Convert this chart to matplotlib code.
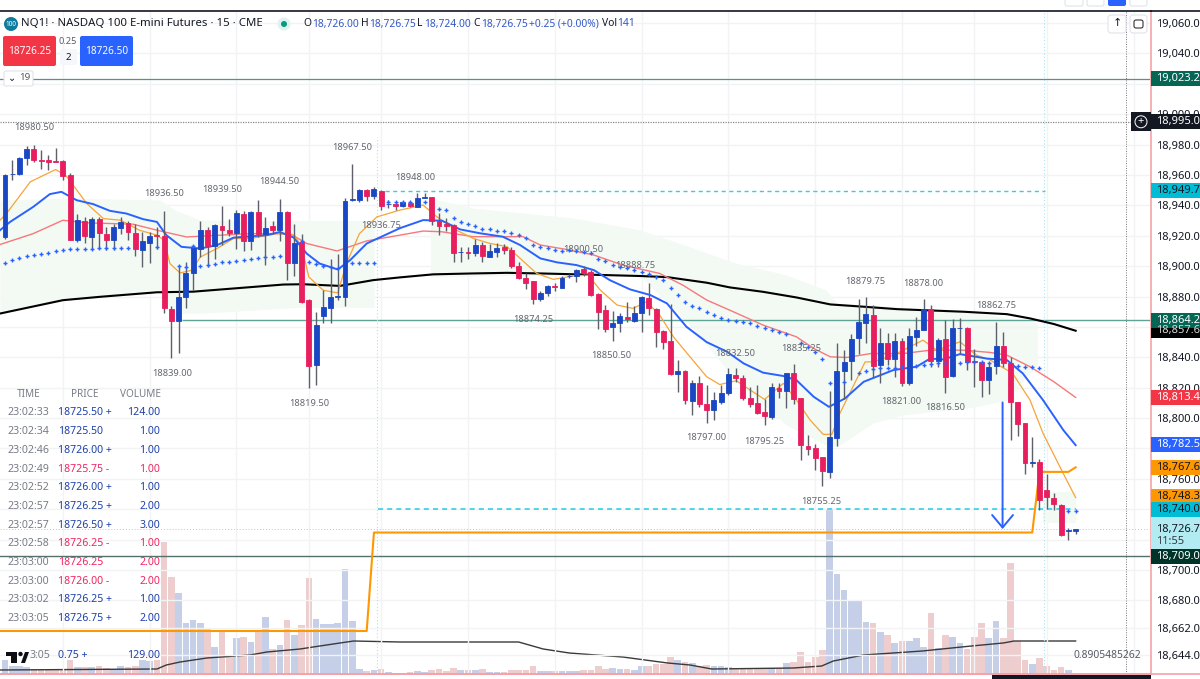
import matplotlib
matplotlib.use('Agg')
import matplotlib.pyplot as plt
from matplotlib.patches import Rectangle, Polygon, Circle, FancyBboxPatch

# bars
opens = [18919.2, 18960.4, 18960.9, 18971.4, 18977.1, 18970, 18969.6, 18969, 18969.4, 18959.8,
         18917.4, 18930, 18919.2, 18930.8, 18921.4, 18917.4, 18925.3, 18928.4, 18922, 18910.6,
         18915, 18920.3, 18920, 18872, 18864, 18879.7, 18895.4, 18911.5, 18924, 18913.3,
         18926.6, 18924, 18922, 18934.5, 18916.5, 18935.6, 18921, 18926.2, 18924, 18935.8,
         18902, 18915.6, 18877.7, 18835, 18867.2, 18872.2, 18880, 18880, 18943.5, 18943.8,
         18949.8, 18946, 18949.6, 18940.9, 18940.9, 18939.6, 18941.7, 18939.1, 18945, 18945.3,
         18929.9, 18927.7, 18927, 18909, 18909.2, 18908.4, 18913.9, 18906.2, 18909, 18912.3,
         18910.6, 18900.3, 18891.9, 18889.9, 18878.7, 18882, 18887, 18885.8, 18893.4, 18893.5,
         18897.8, 18895.9, 18881.8, 18870.9, 18860, 18862.7, 18866.5, 18864, 18869.3, 18879.2,
         18871.7, 18857.5, 18850.9, 18829, 18831.3, 18811.4, 18823.4, 18809.2, 18805.6, 18810.7,
         18816.3, 18828.1, 18826.2, 18813.2, 18809.7, 18804, 18800.9, 18819.8, 18817.8, 18829.4,
         18813, 18781.5, 18780, 18774.3, 18764.6, 18787.2, 18830.9, 18837.3, 18852.4, 18862.7,
         18867.8, 18834.9, 18849.1, 18839.2, 18850.9, 18823.2, 18853.5, 18857.9, 18871.5, 18837.7,
         18851.8, 18827.6, 18859.4, 18859, 18837.5, 18836.6, 18825, 18834.2, 18847.4, 18836.4,
         18810.7, 18796.7, 18770.7, 18770.8, 18752.5, 18747.7, 18743.1, 18726, 18726]
highs = [18960.5, 18969.6, 18971.6, 18978.9, 18980, 18976.2, 18973, 18977.8, 18969.6, 18961,
         18934.5, 18932.3, 18932.3, 18932.3, 18925.7, 18928, 18932.3, 18930, 18927.5, 18922.4,
         18922.4, 18925.7, 18936.3, 18874, 18900.5, 18902.7, 18913.7, 18929.7, 18925.7, 18928,
         18939.4, 18930.8, 18936.7, 18936.3, 18936.3, 18943.3, 18932.3, 18930, 18944.4, 18936.3,
         18927.5, 18921.4, 18878.5, 18870, 18884, 18905, 18908, 18945, 18967.5, 18951,
         18951, 18952, 18950, 18943.5, 18942.4, 18943, 18943, 18947.9, 18948, 18945.3,
         18935.2, 18932, 18928, 18912.3, 18912.3, 18917.6, 18916, 18914.5, 18915, 18914.5,
         18912.3, 18902.9, 18895.2, 18890.4, 18883.4, 18887.5, 18888.6, 18893.5, 18894.8, 18898,
         18900, 18897.4, 18882.5, 18874.4, 18870.4, 18869.3, 18876.6, 18873.7, 18880.3, 18888.6,
         18872.2, 18857.9, 18875, 18838.1, 18831.5, 18825, 18827.8, 18821.7, 18817.3, 18821.7,
         18832.7, 18832.7, 18828.3, 18820.7, 18821.8, 18812.3, 18822.9, 18823.3, 18829.5, 18835.6,
         18813, 18788.8, 18783, 18774.5, 18817.7, 18849.1, 18844.7, 18855.3, 18878.1, 18879.4,
         18874.4, 18859, 18855.7, 18856.1, 18852.4, 18859, 18866.7, 18878.1, 18874.4, 18852.4,
         18864.5, 18864.9, 18865.6, 18860, 18845.8, 18837, 18837, 18863, 18856.8, 18840.3,
         18810.7, 18796.9, 18787.7, 18773.4, 18763.5, 18750.4, 18743.3, 18727.5, 18726.75]
lows = [18918, 18956.5, 18960, 18966.3, 18968.3, 18964.2, 18963.5, 18968.5, 18956.5, 18917,
        18916, 18915.2, 18911.5, 18911.5, 18910.4, 18910.4, 18921.4, 18917, 18907, 18899.4,
        18902.2, 18911.5, 18869.1, 18839.3, 18842.6, 18872.6, 18884, 18906, 18899.5, 18905,
        18913.7, 18919.6, 18911.5, 18910, 18910.4, 18919.2, 18900.5, 18921.4, 18916.5, 18891,
        18893.3, 18875.8, 18819.5, 18821.7, 18862.8, 18862.8, 18878, 18874, 18943, 18942.5,
        18943, 18944, 18937, 18938, 18937, 18938.7, 18938.7, 18938.7, 18944.6, 18927,
        18920.2, 18923.3, 18902.9, 18902.9, 18905, 18906.6, 18902.9, 18905.8, 18906.2, 18908,
        18898.5, 18891.3, 18885, 18874.8, 18876.8, 18880.5, 18883.6, 18885.6, 18892, 18889.3,
        18893.5, 18880.5, 18858.8, 18856.8, 18850.9, 18856.8, 18863.4, 18863.4, 18856.6, 18867.8,
        18846.9, 18845.4, 18828.3, 18817.3, 18809.2, 18802, 18807, 18796.9, 18799, 18809.6,
        18815, 18823.5, 18811.9, 18807.5, 18802.7, 18795.4, 18799.6, 18813, 18806.4, 18809,
        18772.4, 18775.7, 18765.7, 18755.2, 18760.9, 18781.7, 18812.5, 18825, 18842.5, 18849.1,
        18826.7, 18822.8, 18834.9, 18827.2, 18821, 18821.7, 18847.6, 18857.9, 18833.3, 18833.8,
        18816.6, 18827.2, 18842.5, 18831.6, 18820.6, 18814, 18815.8, 18829, 18833.3, 18785.5,
        18788.1, 18763.1, 18768, 18739.4, 18740.5, 18739.8, 18722.7, 18719.6, 18724]
closes = [18959.8, 18960.9, 18971.4, 18977.1, 18969.6, 18969.5, 18968.8, 18968.7, 18959.3, 18917.4,
          18930.1, 18919.6, 18930.8, 18921.8, 18917, 18925.5, 18929, 18922.2, 18911, 18916.3,
          18919.6, 18919.7, 18872.6, 18864, 18879.7, 18895.4, 18912.1, 18923.5, 18913.3, 18927.3,
          18924, 18922, 18935, 18916.5, 18935.8, 18921, 18925.3, 18924, 18935.8, 18902,
          18915.2, 18876.4, 18834.3, 18861.3, 18872.9, 18879.5, 18880.4, 18943, 18944, 18950.4,
          18946, 18950.8, 18939.8, 18941, 18939.6, 18942, 18939.6, 18944.6, 18945.3, 18929.9,
          18926.4, 18926.6, 18908.8, 18909.2, 18908.8, 18913.7, 18907, 18909.7, 18912.1, 18910.6,
          18900.3, 18891.9, 18889, 18878.3, 18882, 18886.9, 18886.4, 18892.4, 18893.6, 18897.2,
          18895.2, 18881, 18869.5, 18858.8, 18862.9, 18867.1, 18865.1, 18869.3, 18879.9, 18872.2,
          18856.8, 18850.4, 18828.7, 18830.9, 18811.8, 18823, 18809.6, 18805.6, 18811.8, 18816.8,
          18829, 18826.2, 18813, 18809, 18803.1, 18801.1, 18820.2, 18817.8, 18829.4, 18812.6,
          18782.3, 18779.8, 18774, 18765, 18787.7, 18831.1, 18837, 18852.2, 18863.2, 18868.2,
          18834.4, 18849.1, 18838.8, 18850.7, 18823.2, 18854.2, 18858.3, 18871.5, 18837.5, 18851.3,
          18827.2, 18859.4, 18859.6, 18837, 18837.2, 18825, 18833.8, 18847.6, 18836.4, 18810.7,
          18796.4, 18770.5, 18771, 18746.4, 18748.2, 18743.3, 18723.1, 18726.2, 18726.75]
volumes = [14, 8, 8, 7, 5, 5, 5, 4, 5, 14, 7, 7, 7, 8, 6, 5, 8, 7, 8, 14, 13, 14,
           132, 97, 81, 51, 54, 51, 45, 27, 44, 19, 36, 37, 32, 42, 57, 25, 29, 54, 39, 49,
           96, 55, 50, 50, 51, 105, 53, 5, 3, 4, 5, 2, 1, 1, 2, 3, 2, 4, 5, 3, 6, 4, 4, 4,
           5, 2, 2, 2, 4, 4, 4, 8, 3, 3, 3, 3, 3, 3, 4, 4, 8, 5, 6, 5, 5, 4, 8, 8, 10, 10,
           17, 14, 12, 11, 8, 9, 8, 8, 7, 6, 6, 6, 6, 6, 6, 6, 11, 12, 22, 12, 17, 24,
           165, 100, 84, 74, 74, 52, 51, 42, 39, 31, 33, 33, 36, 27, 61, 26, 39, 37, 31, 25,
           37, 51, 36, 53, 36, 111, 33, 14, 10, 16, 8, 4, 7, 4, 1]

fast_x = [-0.7, 0.2, 3.5, 7, 8.5, 11.3, 13.6, 16, 18.6, 21, 22, 22.8, 24.2, 25.8, 27, 29.3, 31.6, 34, 37.6,
          40, 41, 42, 44, 46, 47.2, 49, 51.4, 54.6, 57.8, 59.7, 62.4, 64.7, 67, 69.4, 70.7, 73.5, 75.8,
          78.5, 80.6, 82.3, 84.6, 86.8, 88.7, 90.5, 92.4, 94.7, 97, 98.8, 101.1, 103, 105, 107.6, 109.4,
          111.3, 113.1, 114.3, 115.4, 118.9, 120, 122.8, 126.9, 128.8, 132, 134.3, 136.2, 139.3, 141.7,
          143.5, 146.3, 148]
fast_y = [18930.2, 18934.6, 18955.5, 18963.6, 18959.2, 18941.2, 18931.3, 18930.2, 18923.6, 18920.4, 18917,
          18901.7, 18895.5, 18897.3, 18906, 18911.6, 18918.2, 18918.2, 18921.4, 18920.4, 18912.7, 18892.9,
          18884.1, 18882.4, 18901.7, 18921.4, 18932.4, 18936.9, 18940.2, 18932.5, 18923.7, 18918.3, 18915,
          18912.8, 18907.3, 18895.2, 18891.3, 18893.5, 18894.1, 18884.2, 18874.4, 18872.2, 18876.6, 18867.8,
          18853.5, 18840.3, 18827.2, 18822.1, 18824.6, 18818.5, 18812.3, 18822.9, 18811.9, 18798.7, 18789.3,
          18789.3, 18803, 18837, 18837, 18841.4, 18851.3, 18844.7, 18850.2, 18841.4, 18838.2, 18829.4,
          18811.8, 18789.9, 18763.5, 18747.7]
mid_x = [-0.7, 0.7, 3.9, 6.2, 7.8, 9.9, 12.2, 14.5, 16.8, 19.1, 21, 22.3, 24.4, 27, 29.3, 31.6, 36.2, 38, 39.9,
         41.7, 43.5, 46, 47.7, 50, 54.6, 57.8, 60.4, 62.9, 65.7, 68.8, 71.2, 74, 76.3, 79, 81.4, 83.6, 86.4,
         89.2, 91.5, 94.2, 97, 99.8, 102.1, 104.8, 107.6, 109.4, 111.8, 113.9, 116.1, 118.7, 122.8, 126,
         127.9, 129.7, 132, 135.7, 138.5, 140.7, 143.5, 146.3, 148]
mid_y = [18923.6, 18929.1, 18939, 18947.4, 18948.9, 18943.4, 18940.8, 18936.4, 18934.6, 18930.9, 18929.1,
         18920.4, 18912.7, 18911.6, 18913.8, 18918.8, 18920.4, 18922.5, 18918.8, 18908.3, 18901.7, 18897.8,
         18903.9, 18914.9, 18925, 18930.3, 18929.9, 18924.2, 18921.6, 18919.4, 18913.9, 18905.1, 18902.5,
         18900.7, 18897.4, 18890.8, 18884.7, 18881, 18875.5, 18860.1, 18850, 18843.7, 18836, 18829.9,
         18827.7, 18825, 18814, 18807.4, 18812.9, 18823.9, 18831.6, 18833.8, 18839.2, 18838.6, 18842.1,
         18839.2, 18838.2, 18829.4, 18811.8, 18792.1, 18782.2]
slow_x = [-0.7, 3.9, 8, 11.3, 17.7, 21.4, 25.1, 33.9, 39.4, 41.7, 45.9, 50, 54.6, 57.8, 60.4, 64.7, 71.6, 74,
          77.6, 81.4, 85.4, 90.5, 93.7, 97, 100.2, 104.8, 109.4, 111.8, 114.1, 116.4, 119.7, 124.2, 127.9,
          132.5, 136.2, 138.5, 141.7, 145, 148]
slow_y = [18914.2, 18921.4, 18930.2, 18928.5, 18927.6, 18923.2, 18919.2, 18921.4, 18921.4, 18914.9, 18910,
          18916.6, 18920.4, 18923.1, 18922.6, 18919.4, 18919.4, 18913.9, 18911, 18907.3, 18900.7, 18895.2,
          18887.5, 18877.7, 18871, 18861.2, 18853.5, 18845.8, 18840.3, 18839.9, 18842.5, 18842.5, 18844.7,
          18844.7, 18843.2, 18841.4, 18833.8, 18823.9, 18813.6]
long_x = [-0.7, 8, 13.1, 21, 26, 38.5, 41.2, 46.3, 50.9, 54.6, 59.2, 64.7, 69.4, 74, 83.2, 87.8, 91.5, 97, 100.2,
          104.8, 109.4, 114.1, 118.7, 123.3, 132.5, 138.5, 141.7, 145, 148]
long_y = [18868.8, 18877.6, 18879.8, 18882.8, 18883.2, 18887.9, 18888.1, 18887, 18890.8, 18892.6, 18894.6,
          18895.2, 18895.6, 18895.2, 18894.1, 18893.5, 18892.8, 18889.1, 18886, 18883.1, 18879.4, 18874.8,
          18873.3, 18871.7, 18870, 18868.4, 18865.6, 18861.9, 18857.5]
step_x = [-0.7, 50, 51, 142, 143, 147, 148]
step_y = [18659.9, 18659.9, 18724.7, 18724.7, 18764.6, 18764.6, 18767.6]
vol_line_x = [-0.7, 21, 22.3, 24.2, 27.9, 33.9, 36.2, 40.8, 42.6, 46.3, 48.2, 54.6, 71, 74.4, 78, 85.4, 91.6, 94.7,
              97.7, 109, 112.9, 114.5, 118.7, 126.8, 133.6, 138, 139.5, 148]
vol_line_y = [4, 5, 9, 12, 16, 19, 22, 25, 27, 31, 33, 32, 32, 25, 21, 17, 11, 9, 5, 6, 8, 13, 19, 23, 28, 31, 33, 33]

# dots above and below price
sar_x = [0, 1, 2, 3, 4, 5, 6, 7, 8, 9, 10, 11, 12, 13, 14, 15, 16, 17, 21, 24, 25, 26, 27, 28, 29, 30, 31, 32, 33,
         34, 35, 36, 37, 38, 41, 42, 43, 44, 45, 46, 48, 49, 50, 51, 53, 54, 55, 56, 58, 60, 61, 62, 63, 64, 65,
         66, 67, 68, 69, 70, 71, 72, 73, 74, 75, 76, 77, 78, 79, 80, 81, 82, 83, 84, 85, 86, 87, 88, 89, 90, 91,
         92, 93, 94, 95, 96, 97, 98, 99, 100, 101, 102, 103, 104, 105, 106, 107, 108, 110, 111, 112, 113, 114,
         116, 118, 119, 120, 121, 122, 123, 124, 126, 127, 128, 129, 130, 132, 133, 134, 135, 136, 140, 141,
         142, 143, 147, 148]
sar_y = [18902.1, 18903.9, 18905.6, 18906.7, 18907.6, 18908.3, 18908.9, 18909.8, 18910.5, 18911.1, 18911.4,
         18911.6, 18911.6, 18911.8, 18912, 18912, 18912, 18912, 18912.7, 18900.2, 18899.5, 18913.1, 18900.4,
         18900.8, 18901.7, 18902.4, 18902.6, 18903.2, 18904.1, 18904.5, 18905.4, 18905.9, 18906.3, 18906.7,
         18916.6, 18902.8, 18901.3, 18900.2, 18899.5, 18898.8, 18902.1, 18902.1, 18902.1, 18902.1, 18942.4,
         18942, 18942, 18942, 18942.2, 18937.6, 18936.7, 18931.7, 18929.2, 18927.5, 18926.4, 18924.6, 18924.4,
         18923.3, 18923.3, 18921.6, 18920.5, 18918.7, 18914.1, 18912.8, 18911.9, 18910.8, 18910.1, 18910.4,
         18909.7, 18909, 18908.4, 18904.9, 18903.3, 18900.7, 18899.6, 18898.5, 18897.4, 18895.9, 18894.8, 18893,
         18890.8, 18885.3, 18881, 18876.6, 18873.9, 18872.2, 18869.5, 18867.8, 18865.6, 18864.5, 18864.1, 18863,
         18862.3, 18860.8, 18859, 18857.7, 18856.6, 18855.3, 18849.6, 18846.5, 18843.6, 18838.6, 18822.8,
         18823.9, 18829.4, 18831.1, 18832.2, 18832.7, 18832.7, 18832.7, 18833.8, 18834.2, 18834.9, 18835.5,
         18836, 18836, 18836, 18836.6, 18837, 18836.6, 18836.4, 18834.2, 18833.8, 18833.3, 18833.1, 18738.9,
         18738.9]

# shaded bands
band1_x = [-0.7, 9, 21.4, 23.5, 27, 41, 51]
band1_top = [18943.5, 18944.8, 18943.5, 18936.9, 18930.3, 18930, 18930]
band1_bot = [18868.8, 18878, 18883, 18869, 18869, 18873, 18873]
band2_x = [58.8, 64.7, 78.5, 87.8, 94.7, 101, 108, 113.5, 115, 120, 124, 134, 138.4, 142.7]
band2_top = [18944.8, 18938.2, 18931.7, 18923.8, 18912.6, 18902, 18894.2, 18884.3, 18875.7, 18874.4, 18873,
             18869.8, 18865.9, 18862.6]
band2_bot = [18892.8, 18893.5, 18894.1, 18893.5, 18861.2, 18825, 18795.4, 18782.3, 18781, 18796.8, 18802,
             18807.3, 18811.9, 18834.9]
band3_x = [143.5, 148]
band3_top = [18751.4, 18751.4]
band3_bot = [18731, 18731]

price_ticks = [19060, 19040, 19000, 18980, 18960, 18940, 18920, 18900, 18880, 18840, 18820, 18800, 18760,
               18700, 18680, 18662, 18644]
grid_only = [19020, 18860, 18780, 18740, 18720]
time_grid = [8, 20, 32, 42, 52, 64, 76, 88, 100, 112, 124, 134, 144, 156]

# the right edge of the picture cuts these after one decimal
level_prices = [18857.6, 19023.25, 18995.0, 18949.75, 18864.25, 18813.4, 18782.5, 18767.6, 18748.3, 18740.0]
level_texts = ['18,857.6', '19,023.2', '18,995.0', '18,949.7', '18,864.2', '18,813.4', '18,782.5',
               '18,767.6', '18,748.3', '18,740.0']
level_colors = ['#000000', '#056656', '#131722', '#00bcd4', '#056656', '#f23645', '#2962ff', '#ff9800', '#ff9800',
                '#00bcd4']
level_text_colors = ['#d8d8d8', 'white', 'white', '#131722', 'white', 'white', 'white', '#131722', '#131722',
                     '#131722']

bar_labels = ['18980.50', '18936.50', '18939.50', '18944.50', '18967.50', '18948.00', '18936.75', '18900.50',
              '18888.75', '18874.25', '18850.50', '18879.75', '18878.00', '18862.75', '18832.50', '18835.25',
              '18839.00', '18819.50', '18821.00', '18816.50', '18797.00', '18795.25', '18755.25']
bar_label_pos = [(34, 128), (164, 194), (222, 190), (279, 182), (352, 147), (415, 177), (381, 226), (583, 249),
                 (635, 266), (533, 320), (611, 356), (865, 281), (923, 283), (996, 306), (735, 353), (801, 349),
                 (172, 373), (309, 403), (901, 402), (945, 408), (706, 438), (764, 441), (821, 501)]

trade_times = ['23:02:33', '23:02:34', '23:02:46', '23:02:49', '23:02:52', '23:02:57', '23:02:57', '23:02:58',
               '23:03:00', '23:03:00', '23:03:02', '23:03:05']
trade_prices = ['18725.50 +', '18725.50', '18726.00 +', '18725.75 -', '18726.00 +', '18726.25 +', '18726.50 +',
                '18726.25 -', '18726.25', '18726.00 -', '18726.25 +', '18726.75 +']
trade_vols = ['124.00', '1.00', '1.00', '1.00', '1.00', '2.00', '3.00', '1.00', '2.00', '2.00', '1.00', '2.00']
trade_sides = ['b', 'b', 'b', 's', 'b', 'b', 'b', 's', 's', 's', 'b', 'b']

W, H = 1200, 679
BLUE = '#1a47c4'
RED = '#e91e5f'
AXIS_FONT = 8.0
plt.rcParams['font.family'] = ['Noto Sans', 'DejaVu Sans']


def px_text(x, y, s, **kw):
    kw.setdefault('va', 'center')
    kw.setdefault('fontsize', 7.2)
    fig.text(x / W, 1 - y / H, s, **kw)


def px_rect(x0, y0, x1, y1, color, zorder=4, round_=0, ec='none'):
    if round_:
        p = FancyBboxPatch((x0, H - y1), x1 - x0, y1 - y0, boxstyle=f'round,pad=0,rounding_size={round_}',
                           fc=color, ec=ec, lw=0.8, zorder=zorder, transform=pix)
    else:
        p = Rectangle((x0, H - y1), x1 - x0, y1 - y0, fc=color, ec=ec, lw=0.8, zorder=zorder, transform=pix)
    fig.add_artist(p)


fig = plt.figure(figsize=(12, 6.79), dpi=100)
pix = matplotlib.transforms.Affine2D().scale(1.0)  # figure pixels, y up

# volume pane sits behind the price pane
ax_vol = fig.add_axes([0, 5 / H, 1151 / W, 220 / H], zorder=0)
ax = fig.add_axes([0, 5 / H, 1151 / W, 663 / H], zorder=1)
ax.patch.set_visible(False)

x0_idx, x1_idx = -5 / 7.234, 1146 / 7.234
for a in (ax, ax_vol):
    a.set_xlim(x0_idx, x1_idx)
ax.set_ylim(18631.6, 19067.9)
ax_vol.set_ylim(0, 220)
ax_vol.axis('off')

idx = list(range(len(opens)))
vol_colors = ['#c5cfe8' if c >= o else '#edcdce' for o, c in zip(opens, closes)]
ax_vol.bar(idx, volumes, width=0.92, color=vol_colors, linewidth=0)
ax_vol.plot(vol_line_x, vol_line_y, color='#3a3a3a', lw=1.0)

# grid
ax.set_xticks(time_grid)
ax.set_yticks(price_ticks)
ax.set_yticklabels([f'{t:,.1f}' for t in price_ticks], fontsize=AXIS_FONT, color='#131722')
ax.yaxis.tick_right()
ax.tick_params(axis='y', length=0, pad=3.6)
ax.tick_params(axis='x', length=0, labelbottom=False)
ax.grid(True, color='#f2f3f5', lw=1.0)
ax.hlines(grid_only, x0_idx, x1_idx, color='#f2f3f5', lw=1.0)
ax.set_axisbelow(True)
for s in ('left',):
    ax.spines[s].set_visible(False)
ax.spines['right'].set_color('#f7b0b6')
ax.spines['right'].set_linewidth(1.4)
ax.spines['bottom'].set_color('#f7a0a8')
ax.spines['bottom'].set_linewidth(1.4)
ax.spines['top'].set_color('#131722')
ax.spines['top'].set_linewidth(1.2)

# bands
for bx, bt, bb in ((band1_x, band1_top, band1_bot), (band2_x, band2_top, band2_bot), (band3_x, band3_top, band3_bot)):
    ax.fill_between(bx, bb, bt, color='#f3f9f3', lw=0, zorder=1)

# levels
ax.axhline(19023.25, color='#5b8f88', lw=0.9, zorder=2)
ax.axhline(18995.0, color='#8a8a8a', lw=0.9, ls=(0, (1, 1)), zorder=2)
ax.hlines(18864.25, 24.5, x1_idx, color='#5fa396', lw=1.0, zorder=2)
ax.axhline(18709.0, color='#53716a', lw=1.0, zorder=2)
ax.hlines(18949.75, 52.5, 143.8, color='#33cfe3', lw=1.0, ls=(0, (3, 2.5)), zorder=2)
ax.hlines(18740.0, 51.5, 148, color='#33cfe3', lw=1.2, ls=(0, (3, 2.5)), zorder=2)
ax.axhline(18726.75, color='#80deea', lw=0.7, ls=(0, (1, 2)), zorder=2)
ax.axvline(154.9, color='#777777', lw=0.7, ls=(0, (1, 1.5)), zorder=2)
ax.axvline(51.4, ymax=0.81, color='#a8e4ee', lw=0.8, ls=(0, (1, 2)), zorder=2)
ax.axvline(143.6, color='#a8e4ee', lw=0.8, ls=(0, (1, 2)), zorder=2)

# moving averages
ax.plot(long_x, long_y, color='black', lw=1.5, zorder=3)
ax.plot(slow_x, slow_y, color='#f7787c', lw=1.0, zorder=3)
ax.plot(fast_x, fast_y, color='#f7a438', lw=0.9, zorder=3)
ax.plot(mid_x, mid_y, color='#2962ff', lw=1.4, zorder=3)
ax.plot(step_x, step_y, color='#ff9800', lw=1.5, zorder=3)

# candles
for i in idx:
    ax.vlines(i, lows[i], highs[i], color='#5d606b', lw=1.0, zorder=4)
    c = BLUE if closes[i] >= opens[i] else RED
    ax.bar(i, abs(closes[i] - opens[i]), bottom=min(opens[i], closes[i]), width=0.68, color=c, ec=c, lw=0.6, zorder=5)

ax.scatter(sar_x, sar_y, marker='+', s=11, color='#2962ff', linewidths=1.0, zorder=6)

ax.annotate('', xy=(137.9, 18727), xytext=(137.9, 18810.3), zorder=7,
            arrowprops=dict(arrowstyle='->,head_length=0.9,head_width=0.75', color='#2962ff', lw=1.4,
                            shrinkA=0, shrinkB=0))

for s, (x, y) in zip(bar_labels, bar_label_pos):
    px_text(x, y, s, ha='center', color='#62666e', fontsize=6.7)

# tape on the left
px_text(29, 394, 'TIME', ha='center', color='#787b86')
px_text(85, 394, 'PRICE', ha='center', color='#787b86')
px_text(140, 394, 'VOLUME', ha='center', color='#787b86')
for n, (t, p, v, sd) in enumerate(zip(trade_times, trade_prices, trade_vols, trade_sides)):
    y = 413 + n * 18.7
    col = '#1d3fa8' if sd == 'b' else '#f0245f'
    px_text(8, y, t, color='#787b86', fontsize=7.6)
    px_text(58, y, p, color=col, fontsize=7.6)
    px_text(160, y, v, ha='right', color=col, fontsize=7.6)
px_text(29, 656, '3:05', color='#787b86', fontsize=7.6)
px_text(58, 656, '0.75 +', color='#1d3fa8', fontsize=7.6)
px_text(160, 656, '129.00', ha='right', color='#1d3fa8', fontsize=7.6)

# tradingview mark
for pts in ([(6, 652), (17, 652), (17, 663), (11, 663), (11, 656), (6, 656)],
            [(21, 663), (25, 652), (29, 652), (25, 663)]):
    fig.add_artist(Polygon([(x, H - y) for x, y in pts], fc='#0c0e14', ec='none', zorder=4, transform=pix))
fig.add_artist(Circle((20.5, H - 654), 2.2, fc='#0c0e14', ec='none', zorder=4, transform=pix))

# header
fig.add_artist(Circle((11, H - 24), 7, fc='#117a9c', ec='none', zorder=4, transform=pix))
px_text(11, 24, '100', ha='center', color='white', fontsize=4.6, zorder=5)
px_text(21, 24, 'NQ1! · NASDAQ 100 E-mini Futures · 15 · CME', color='#131722', fontsize=8.2)
fig.add_artist(Circle((284, H - 24), 6.5, fc='#dff2ee', ec='none', zorder=4, transform=pix))
fig.add_artist(Circle((284, H - 24), 3, fc='#089981', ec='none', zorder=5, transform=pix))
for x, s, col in ((303, 'O', '#131722'), (312, '18,726.00', '#3358c4'), (361, 'H', '#131722'),
                  (369, '18,726.75', '#3358c4'), (417, 'L', '#131722'), (424, '18,724.00', '#3358c4'),
                  (473, 'C', '#131722'), (481, '18,726.75', '#3358c4'), (529, '+0.25 (+0.00%)', '#3358c4'),
                  (602, 'Vol', '#131722'), (617, '141', '#3358c4')):
    px_text(x, 24, s, color=col, fontsize=7.4)

px_rect(3, 36, 56, 66, '#f23645', round_=2)
px_text(29.5, 51, '18726.25', ha='center', color='white', fontsize=7.2, zorder=5)
px_rect(80, 36, 133, 66, '#2962ff', round_=2)
px_text(106.5, 51, '18726.50', ha='center', color='white', fontsize=7.2, zorder=5)
px_rect(60, 49, 77, 65, '#f5f7fb', round_=2)
px_text(68, 41, '0.25', ha='center', color='#555a66', fontsize=6.6)
px_text(68, 57, '2', ha='center', color='#131722', fontsize=7, zorder=5)
px_rect(4, 71, 33, 86, 'white', round_=2, ec='#e0e3eb')
px_text(12, 78, '⌄', ha='center', color='#131722', fontsize=7, zorder=5, family='DejaVu Sans')
px_text(25, 78, '19', ha='center', color='#555a66', fontsize=7, zorder=5)

# buttons in the corner
px_rect(1108, 15, 1126, 33, 'white', round_=3, ec='#e0e3eb')
px_text(1117, 23.5, '↑', ha='center', color='#131722', fontsize=8, zorder=5, family='DejaVu Sans')
px_rect(1130, 15, 1147, 33, 'white', round_=3, ec='#e0e3eb')
px_rect(1134, 20, 1143, 28, 'white', zorder=5, round_=2, ec='#333333')
px_rect(1108, -3, 1126, 6, '#2962ff', round_=2)
for x0, x1 in ((1065, 1083), (1087, 1104), (1130, 1147)):
    px_rect(x0, -3, x1, 6, 'white', round_=2, ec='#e0e3eb')

fig.add_artist(plt.Line2D([1151, W], [H - 11, H - 11], color='#131722', lw=1.2, zorder=3, transform=pix))
fig.add_artist(plt.Line2D([1151, W], [H - 674, H - 674], color='#f7a0a8', lw=1.2, zorder=3, transform=pix))
px_rect(992, 675, 1151, 680, '#131722')
px_text(1073, 656, '0.8905485262', color='#555a66', fontsize=7.4, zorder=5)

# price labels on the axis
for n, (p, s, col, tc) in enumerate(zip(level_prices, level_texts, level_colors, level_text_colors)):
    y = H - ax.transData.transform((0, p))[1]
    h = 7.6
    px_rect(1151, y - h, W, y + h, col, zorder=4 + n * 0.01)
    px_text(1156, y, s, color=tc, fontsize=AXIS_FONT, zorder=6)

# live price with countdown
y = H - ax.transData.transform((0, 18726.75))[1]
px_rect(1151, y - 12, W, y + 20, '#b2ebf2', zorder=4)
px_text(1156, y, '18,726.7', color='#131722', fontsize=AXIS_FONT, zorder=6)
px_text(1156, y + 12, '11:55', color='#333b45', fontsize=AXIS_FONT, zorder=6)
y = H - ax.transData.transform((0, 18709.0))[1]
px_rect(1151, y - 7.6, W, y + 7.6, '#00332a', zorder=5)
px_text(1156, y, '18,709.0', color='white', fontsize=AXIS_FONT, zorder=6)

# crosshair plus
y = H - ax.transData.transform((0, 18995.0))[1]
px_rect(1131, y - 9.5, 1151, y + 9.5, '#131722', zorder=4)
fig.add_artist(Circle((1141, H - y), 6, fc='none', ec='white', lw=0.7, zorder=5, transform=pix))
px_text(1141, y - 0.5, '+', ha='center', color='white', fontsize=8, zorder=6)

fig.savefig('out.png', dpi=100)
